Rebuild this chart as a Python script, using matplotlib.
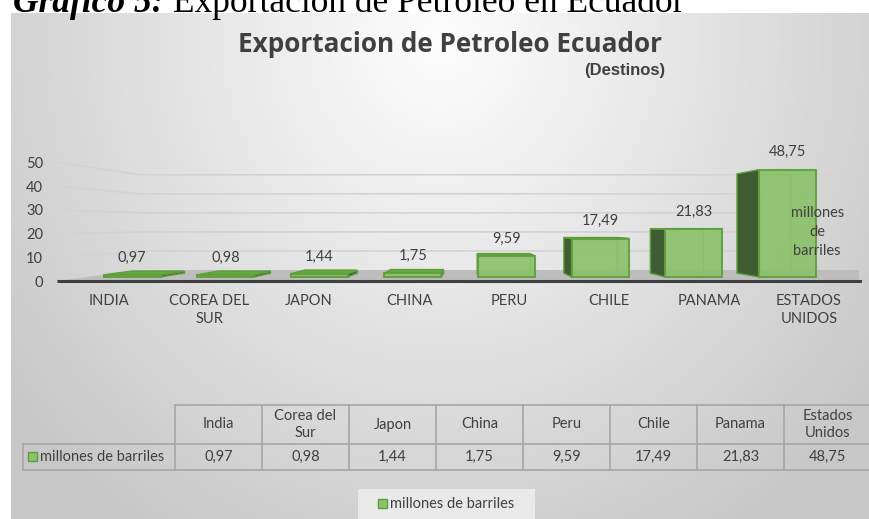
import numpy as np
import matplotlib
matplotlib.use("Agg")
import matplotlib.pyplot as plt
from matplotlib.patches import Polygon, Rectangle

# ---------------- data ----------------
categories = ['INDIA', 'COREA DEL\nSUR', 'JAPON', 'CHINA', 'PERU', 'CHILE', 'PANAMA', 'ESTADOS\nUNIDOS']
table_headers = ['India', 'Corea del\nSur', 'Japon', 'China', 'Peru', 'Chile', 'Panama', 'Estados\nUnidos']
values = [0.97, 0.98, 1.44, 1.75, 9.59, 17.49, 21.83, 48.75]
yticks = [0, 10, 20, 30, 40, 50]
series_name = 'millones de barriles'
title = 'Exportacion de Petroleo Ecuador'
subtitle = '(Destinos)'
caption_bold = 'Gráfico 5:'
caption_rest = ' Exportacion de Petroleo en Ecuador'

FONT = ['Lato', 'DejaVu Sans']
TXT = '#404040'
W, H = 869, 519
TOPBG = 13

def fmt(v):
    return f"{v:.2f}".replace('.', ',')

fig = plt.figure(figsize=(W / 100, H / 100), dpi=100)

def fax(l, t, r, b):
    return [l / W, 1 - b / H, (r - l) / W, (b - t) / H]

# ---------------- background gradient ----------------
bg = fig.add_axes(fax(11, TOPBG, W, H))
yy, xx = np.mgrid[TOPBG:H, 11:W]
r = np.sqrt(((xx - 440) / 520.0) ** 2 + ((yy - 40) / 560.0) ** 2)
g = (254 - 52 * np.clip(r, 0, 1.05)) / 255.0
img = np.dstack([g, g, g])
bg.imshow(img, aspect='auto', extent=(11, W, H, TOPBG), interpolation='bilinear')
bg.set_xlim(11, W); bg.set_ylim(H, TOPBG)
bg.axis('off')

# ---------------- main chart ----------------
ax = fig.add_axes(fax(57, 150, 862, 290))
ax.set_facecolor('none')
x_lo, x_hi = -0.52, 7.53
ax.set_xlim(x_lo, x_hi)
ax.set_ylim(-5.9, 57.7)
for s in ax.spines.values():
    s.set_visible(False)

VPX, VPY = 3.61, 23.6
S_BACK, S_FRONT_WALL, S_WALL = 0.925, 1.081, 0.865

def P(x, y, s):
    return (VPX + (x - VPX) * s, VPY + (y - VPY) * s)

# floor
fy = P(0, 0, S_FRONT_WALL)[1]
by = P(0, 0, S_WALL)[1]
wall_left = VPX + (x_lo - VPX) * S_WALL / S_FRONT_WALL
floor = Polygon([(x_lo, fy), (x_hi - 0.03, fy), (x_hi - 0.03, by), (wall_left, by)],
                closed=True, facecolor='#bdbdbd', edgecolor='none', zorder=1)
ax.add_patch(floor)

# gridlines (back wall + left side wall)
for v in yticks[1:]:
    yf = P(0, v, S_FRONT_WALL)[1]
    yb = P(0, v, S_WALL)[1]
    ax.plot([x_lo, wall_left, x_hi - 0.03], [yf, yb, yb], color='#d3d3d3', lw=1.2, zorder=0.5)

# axis line
ax.plot([x_lo, x_hi], [fy, fy], color='#3f3f3f', lw=2.2, zorder=2, solid_capstyle='butt')

# bars
FRONT = '#8dc26c'
EDGE = '#5f9e3d'
SIDE = '#3f5b32'
TOP = '#6aa845'
bw = 0.57
for i, v in enumerate(values):
    cx = 0.23 + 0.936 * i
    x0, x1 = cx - bw / 2, cx + bw / 2
    F = [(x0, 0), (x1, 0), (x1, v), (x0, v)]
    B = [P(px, py, S_BACK) for px, py in F]
    ax.add_patch(Polygon(B, closed=True, facecolor='none', edgecolor=EDGE, lw=1.0, zorder=3))
    if x0 > VPX:
        side = [F[0], F[3], B[3], B[0]]
        ax.add_patch(Polygon(side, closed=True, facecolor=SIDE, edgecolor=EDGE, lw=1.0, zorder=3))
    elif x1 < VPX:
        side = [F[1], F[2], B[2], B[1]]
        ax.add_patch(Polygon(side, closed=True, facecolor=SIDE, edgecolor=EDGE, lw=1.0, zorder=3))
    if v < VPY:
        top = [F[3], F[2], B[2], B[3]]
        ax.add_patch(Polygon(top, closed=True, facecolor=TOP, edgecolor=EDGE, lw=1.0, zorder=3.5))
    ax.add_patch(Polygon(F, closed=True, facecolor=FRONT, alpha=0.92, edgecolor=EDGE, lw=1.5, zorder=4))
    ax.annotate(fmt(v), (cx, v), xytext=(0, 12.5), textcoords='offset points',
                ha='center', va='center', fontsize=10.5, color=TXT, family=FONT, zorder=6)

# series label inside last bar
cx_last = 0.23 + 0.936 * (len(values) - 1)
ax.text(cx_last + 0.3, values[-1] * 0.42, 'millones\nde\nbarriles', ha='center', va='center',
        fontsize=10.5, color=TXT, family=FONT, linespacing=1.45, zorder=6)

ax.set_yticks([P(0, v, S_FRONT_WALL)[1] for v in yticks])
ax.set_yticklabels([str(v) for v in yticks])
ax.set_xticks(range(len(categories)))
ax.set_xticklabels(categories)
ax.tick_params(axis='both', length=0, colors=TXT, labelsize=10.5)
ax.tick_params(axis='y', pad=10)
ax.tick_params(axis='x', pad=3)
for lab in ax.get_xticklabels() + ax.get_yticklabels():
    lab.set_family(FONT)
    lab.set_color(TXT)
for lab in ax.get_xticklabels():
    lab.set_linespacing(1.35)

# ---------------- overlay (titles, table, legend) ----------------
ov = fig.add_axes([0, 0, 1, 1])
ov.set_xlim(0, W); ov.set_ylim(H, 0)
ov.axis('off')
ov.set_facecolor('none')

ov.text(450, 52, title, ha='center', va='baseline', fontsize=18.8, fontweight='bold',
        color=TXT, family=['Open Sans', 'DejaVu Sans'])
ov.text(665, 70, subtitle, ha='right', va='center', fontsize=12, fontweight='bold',
        color=TXT, family=['Liberation Sans', 'DejaVu Sans'])

# caption strip (cut off at the top edge, as in the reference)
ov.add_patch(Rectangle((0, 0), W, TOPBG, facecolor='white', edgecolor='none', zorder=0))
ov.add_patch(Rectangle((0, 0), 11, H, facecolor='white', edgecolor='none', zorder=0))
CAP_FAM = ['Liberation Serif', 'DejaVu Serif']
CAP_FS = 25.5
t1 = ov.text(13, 12.5, caption_bold, ha='left', va='baseline', fontsize=CAP_FS, fontweight='bold',
             fontstyle='italic', color='black', family=CAP_FAM, zorder=5)
fig.canvas.draw()
bb = t1.get_window_extent()
xd = ov.transData.inverted().transform((bb.x1, 0))[0]
ov.text(xd, 12.5, caption_rest, ha='left', va='baseline', fontsize=CAP_FS,
        color='black', family=CAP_FAM, zorder=5)

# data table
LC = '#a6a6a6'
col0_l, col0_r = 23, 175
cw = 87
t_top, t_mid, t_bot = 405, 444, 470
ncol = len(table_headers)
right_edge = col0_r + cw * ncol
ov.plot([col0_r, right_edge], [t_top, t_top], color=LC, lw=1.2)
ov.plot([col0_l, right_edge], [t_mid, t_mid], color=LC, lw=1.2)
ov.plot([col0_l, right_edge], [t_bot, t_bot], color=LC, lw=1.2)
ov.plot([col0_l, col0_l], [t_mid, t_bot], color=LC, lw=1.2)
for j in range(ncol + 1):
    xx_ = col0_r + cw * j
    ov.plot([xx_, xx_], [t_top, t_bot], color=LC, lw=1.2)
for j, (hname, v) in enumerate(zip(table_headers, values)):
    xc = col0_r + cw * j + cw / 2
    ov.text(xc, (t_top + t_mid) / 2, hname, ha='center', va='center', fontsize=10.5,
            color=TXT, family=FONT, linespacing=1.2)
    ov.text(xc, (t_mid + t_bot) / 2, fmt(v), ha='center', va='center', fontsize=10.5,
            color=TXT, family=FONT)
ov.add_patch(Rectangle((28, 452), 9, 9, facecolor=FRONT, edgecolor=EDGE, lw=1))
ov.text(40, (t_mid + t_bot) / 2, series_name, ha='left', va='center', fontsize=10.5,
        color=TXT, family=FONT)

# legend
ov.add_patch(Rectangle((358, 489), 177, 30, facecolor='#e9e9e9', edgecolor='none'))
ov.add_patch(Rectangle((378, 499), 9, 9, facecolor=FRONT, edgecolor=EDGE, lw=1))
ov.text(390, 504, series_name, ha='left', va='center', fontsize=10.5, color=TXT, family=FONT)

fig.savefig('out.png', dpi=100)
